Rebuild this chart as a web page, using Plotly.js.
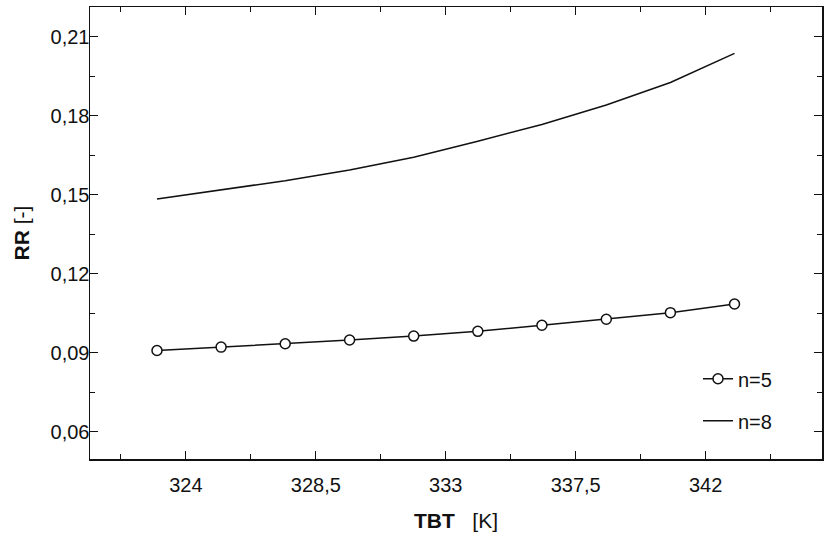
<!DOCTYPE html>
<html>
<head>
<meta charset="utf-8">
<script src="https://cdn.plot.ly/plotly-3.0.1.min.js"></script>
<style>html,body{margin:0;padding:0;background:#fff;}#chart{width:827px;height:547px;}</style>
</head>
<body>
<div id="chart"></div>
<script>
// Data
var tbt = [323.0, 325.22, 327.44, 329.67, 331.89, 334.11, 336.33, 338.56, 340.78, 343.0];
var rrN5 = [0.0908, 0.0921, 0.0934, 0.0948, 0.0963, 0.0981, 0.1004, 0.1027, 0.1052, 0.1085];
var rrN8 = [0.1484, 0.1518, 0.1553, 0.1594, 0.1642, 0.1703, 0.1767, 0.1841, 0.1926, 0.2037];
var seriesNames = ['n=5', 'n=8'];
var xTickVals = [324, 328.5, 333, 337.5, 342];
var xTickText = ['324', '328,5', '333', '337,5', '342'];
var yTickVals = [0.06, 0.09, 0.12, 0.15, 0.18, 0.21];
var yTickText = ['0,06', '0,09', '0,12', '0,15', '0,18', '0,21'];

var traces = [
  {
    x: tbt, y: rrN5, name: seriesNames[0], type: 'scatter', mode: 'lines+markers',
    legendgroup: 'a',
    line: {color: '#111', width: 1.5},
    marker: {symbol: 'circle', size: 10, color: '#fff', line: {color: '#111', width: 1.5}}
  },
  {
    x: tbt, y: rrN8, name: seriesNames[1], type: 'scatter', mode: 'lines',
    legendgroup: 'b',
    line: {color: '#111', width: 1.5}
  }
];

var axisFont = {family: 'Liberation Sans, Arial, sans-serif', size: 20, color: '#111'};

var layout = {
  width: 827, height: 547,
  margin: {l: 90, r: 5, t: 7, b: 88},
  paper_bgcolor: '#fff', plot_bgcolor: '#fff',
  showlegend: true,
  legend: {
    x: 0.8306, y: 0.131, xanchor: 'left', yanchor: 'middle',
    font: {family: 'Liberation Sans, Arial, sans-serif', size: 20, color: '#111'},
    bgcolor: 'rgba(0,0,0,0)', traceorder: 'grouped', tracegroupgap: 13
  },
  xaxis: {
    range: [320.68, 346.03],
    tickmode: 'array', tickvals: xTickVals, ticktext: xTickText,
    ticks: 'inside', ticklen: 8, tickwidth: 1, tickcolor: '#111',
    minor: {tick0: 324, dtick: 2.25, ticks: 'inside', ticklen: 5, tickwidth: 1, tickcolor: '#111', showgrid: false},
    showline: true, linecolor: '#111', linewidth: 1.5, mirror: 'allticks',
    showgrid: false, zeroline: false,
    tickfont: axisFont, ticklabelstandoff: 7,
    title: {text: '<b>TBT</b>\u00A0\u00A0\u00A0[K]', font: {family: 'Liberation Sans, Arial, sans-serif', size: 21, color: '#111'}, standoff: 19}
  },
  yaxis: {
    range: [0.0496, 0.2213],
    tickmode: 'array', tickvals: yTickVals, ticktext: yTickText,
    ticks: 'inside', ticklen: 8, tickwidth: 1, tickcolor: '#111',
    minor: {tick0: 0.06, dtick: 0.015, ticks: 'inside', ticklen: 5, tickwidth: 1, tickcolor: '#111', showgrid: false},
    showline: true, linecolor: '#111', linewidth: 1.5, mirror: 'allticks',
    showgrid: false, zeroline: false,
    tickfont: axisFont, ticklabelstandoff: -5,
    title: {text: '<b>RR</b> [-]', font: {family: 'Liberation Sans, Arial, sans-serif', size: 21, color: '#111'}, standoff: 15}
  }
};

Plotly.newPlot('chart', traces, layout, {displayModeBar: false, staticPlot: true});
</script>
</body>
</html>
